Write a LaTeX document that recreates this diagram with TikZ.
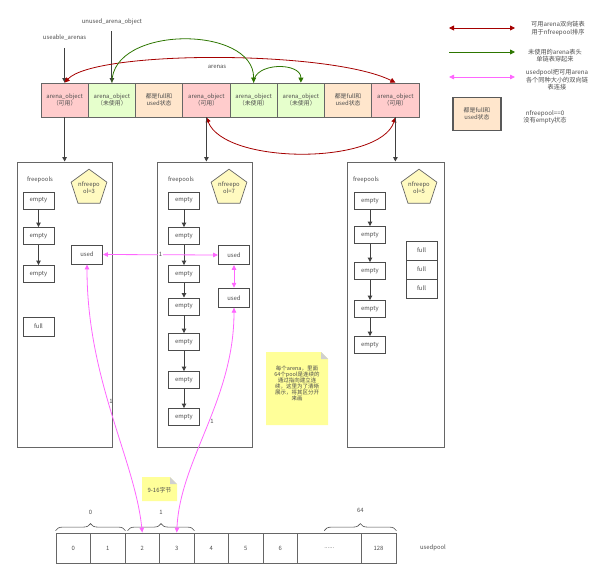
\documentclass[tikz,border=0pt]{standalone}
\usepackage{fontspec}
\setmainfont{Noto Sans CJK SC}
\usetikzlibrary{arrows.meta,shapes.geometric,decorations.pathreplacing}

\definecolor{txtgray}{HTML}{4D4D4D}
\definecolor{linegray}{HTML}{666666}
\definecolor{availfill}{HTML}{FFCCCC}
\definecolor{unusedfill}{HTML}{E6FFCC}
\definecolor{fullfill}{HTML}{FFE6CC}
\definecolor{pentfill}{HTML}{FFFAC0}
\definecolor{notefill}{HTML}{FFFF99}
\definecolor{foldgray}{HTML}{D0D0D0}
\definecolor{listred}{HTML}{A50000}
\definecolor{listgreen}{HTML}{2D7600}
\definecolor{poolpink}{HTML}{FF66FF}

\newcommand{\dfont}{\fontsize{5.9pt}{7.3pt}\selectfont}
\newcommand{\legfont}{\fontsize{6.2pt}{7.4pt}\selectfont}
\newcommand{\notefont}{\fontsize{5.5pt}{6pt}\selectfont}

\begin{document}
\begin{tikzpicture}[x=1pt,y=-1pt,
  cell/.style={draw=linegray,line width=0.8pt,minimum width=47.25pt,minimum height=34pt,inner sep=0pt,align=center,font=\dfont,text=txtgray},
  availcell/.style={cell,fill=availfill},
  unusedcell/.style={cell,fill=unusedfill},
  fullcell/.style={cell,fill=fullfill},
  arenabox/.style={draw=linegray,line width=0.9pt,minimum height=285pt,inner sep=0pt},
  pool/.style={draw=black!70,line width=0.9pt,fill=white,minimum width=31pt,minimum height=17pt,inner sep=0pt,font=\dfont,text=txtgray},
  usedpool/.style={pool,minimum height=19pt},
  nfree/.style={regular polygon,regular polygon sides=5,draw=black!60,line width=0.7pt,fill=pentfill,minimum size=37pt,inner sep=0pt,align=center,font=\dfont,text=txtgray},
  lbl/.style={font=\dfont,text=txtgray,align=center,inner sep=1pt},
  slot/.style={draw=linegray,line width=0.8pt,minimum width=34.5pt,minimum height=30pt,inner sep=0pt,font=\dfont,text=txtgray},
  blackarrow/.style={draw=black!75,line width=0.9pt,-{Triangle[length=4.5pt,width=4.5pt]}},
  redlist/.style={draw=listred,line width=0.8pt,{Triangle[length=5pt,width=5pt]}-{Triangle[length=5pt,width=5pt]}},
  greenlist/.style={draw=listgreen,line width=0.8pt,-{Triangle[length=5pt,width=5pt]}},
  pinklink/.style={draw=poolpink,line width=0.8pt,{Triangle[length=5pt,width=4.5pt]}-{Triangle[length=5pt,width=4.5pt]}},
  grp/.style={draw=black!70,line width=0.6pt,decorate,decoration={brace,amplitude=7pt,raise=2pt}},
]
\useasboundingbox (0,0) rectangle (600,575);

% arena_object list
\node[availcell]  (obj1) at (64.6,100)  {arena\_object\\（可用）};
\node[unusedcell] (obj2) at (111.9,100) {arena\_object\\（未使用）};
\node[fullcell]   (obj3) at (159.1,100) {都是full和\\used状态};
\node[availcell]  (obj4) at (206.4,100) {arena\_object\\（可用）};
\node[unusedcell] (obj5) at (253.6,100) {arena\_object\\（未使用）};
\node[unusedcell] (obj6) at (300.9,100) {arena\_object\\（未使用）};
\node[fullcell]   (obj7) at (348.1,100) {都是full和\\used状态};
\node[availcell]  (obj8) at (395.4,100) {arena\_object\\（可用）};

\node[lbl] (useable) at (64.6,38)  {useable\_arenas};
\node[lbl] (unused)  at (111.9,22) {unused\_arena\_object};
\node[lbl] (arenas)  at (217,67)   {arenas};
\draw[blackarrow] ([yshift=-6pt]useable.south) -- (obj1.north);
\draw[blackarrow] ([yshift=-5pt]unused.south) -- (obj2.north);

% lists between the arena objects
\draw[redlist] (obj1.north) .. controls (95,50) and (330,50) .. (obj8.north);
\draw[redlist] (obj4.south) .. controls (225,165) and (380,165) .. (obj8.south);
\draw[greenlist] (obj2.north) .. controls (112,25) and (254,25) .. (obj5.north);
\draw[greenlist] (obj5.north) .. controls (254,62) and (301,62) .. (obj6.north);

% the three arenas
\node[arenabox,minimum width=95pt] (arena1) at (64.5,304.5) {};
\node[arenabox,minimum width=95pt] (arena2) at (204.5,304.5) {};
\node[arenabox,minimum width=97pt] (arena3) at (395.5,304.5) {};
\draw[blackarrow] (obj1.south) -- (obj1.south |- arena1.north);
\draw[blackarrow] (obj4.south) -- (obj4.south |- arena2.north);
\draw[blackarrow] (obj8.south) -- (obj8.south |- arena3.north);

% arena 1
\node[lbl]      (fp1) at (40,180)     {freepools};
\node[nfree]    (nf1) at (89,188)     {nfreepo\\ol=3};
\node[pool]     (e11) at (38.5,200.5) {empty};
\node[pool]     (e12) at (38.5,236)   {empty};
\node[pool]     (e13) at (38.5,274)   {empty};
\node[usedpool] (f11) at (38.5,326.5) {full};
\node[usedpool] (u11) at (87,254.5)   {used};
\draw[blackarrow] (e11.south) -- (e12.north);
\draw[blackarrow] (e12.south) -- (e13.north);

% arena 2
\node[lbl]      (fp2) at (181,180)    {freepools};
\node[nfree]    (nf2) at (229,188)    {nfreepo\\ol=7};
\node[pool]     (e21) at (184,200.5)  {empty};
\node[pool]     (e22) at (184,236)    {empty};
\node[pool]     (e23) at (184,274)    {empty};
\node[pool]     (e24) at (184,306.5)  {empty};
\node[pool]     (e25) at (184,342)    {empty};
\node[pool]     (e26) at (184,380)    {empty};
\node[pool]     (e27) at (184,417)    {empty};
\node[usedpool] (u21) at (234,255)    {used};
\node[usedpool] (u22) at (234,297.7)  {used};
\draw[blackarrow] (e21.south) -- (e22.north);
\draw[blackarrow] (e22.south) -- (e23.north);
\draw[blackarrow] (e23.south) -- (e24.north);
\draw[blackarrow] (e24.south) -- (e25.north);
\draw[blackarrow] (e25.south) -- (e26.north);
\draw[blackarrow] (e26.south) -- (e27.north);

% arena 3
\node[lbl]      (fp3) at (366,180)    {freepools};
\node[nfree]    (nf3) at (419,188)    {nfreepo\\ol=5};
\node[pool]     (e31) at (370,201)    {empty};
\node[pool]     (e32) at (370,235)    {empty};
\node[pool]     (e33) at (370,271)    {empty};
\node[pool]     (e34) at (370,309)    {empty};
\node[pool]     (e35) at (370,345)    {empty};
\node[usedpool] (f31) at (421.5,250.5) {full};
\node[usedpool] (f32) at (421.5,269.5) {full};
\node[usedpool] (f33) at (421.5,288.5) {full};
\draw[blackarrow] (e31.south) -- (e32.north);
\draw[blackarrow] (e32.south) -- (e33.north);
\draw[blackarrow] (e33.south) -- (e34.north);
\draw[blackarrow] (e34.south) -- (e35.north);

% note
\fill[notefill] (266,352) -- (321,352) -- (328,359) -- (328,425) -- (266,425) -- cycle;
\fill[foldgray] (321,352) -- (328,359) -- (321,359) -- cycle;
\node[lbl,font=\notefont] (note1) at (297,383) {每个arena，里面\\64个pool是连续的\\通过指向建立连\\续，这里为了清晰\\展示，将其区分开\\来画};

% usedpool array
\node[slot] (s0) at (73.25,548)  {0};
\node[slot] (s1) at (107.75,548) {1};
\node[slot] (s2) at (142.25,548) {2};
\node[slot] (s3) at (176.75,548) {3};
\node[slot] (s4) at (211.25,548) {4};
\node[slot] (s5) at (245.75,548) {5};
\node[slot] (s6) at (280.25,548) {6};
\node[slot,minimum width=63.5pt] (s7) at (329.25,548) {......};
\node[slot,minimum width=35pt]   (s8) at (378.5,548)  {128};
\node[lbl] (usedpool) at (433,548) {usedpool};

\draw[grp] (s0.north west) -- (s1.north east) node[lbl,midway,above=17pt] {0};
\draw[grp] ([xshift=3pt]s2.north west) -- (s3.north east) node[lbl,midway,above=17pt] {1};
\draw[grp] ([xshift=-5pt]s7.north) -- (s8.north east) node[lbl,midway,above=19pt] {64};

\fill[notefill] (142,477) -- (170,477) -- (177,484) -- (177,501) -- (142,501) -- cycle;
\fill[foldgray] (170,477) -- (177,484) -- (170,484) -- cycle;
\node[lbl] (note2) at (159.5,490) {9-16字节};

% usedpool links
\draw[pinklink] (u11.east) -- node[lbl,pos=0.5,fill=white,inner sep=0.5pt] {1} (u21.west);
\draw[pinklink] (u21.south) -- (u22.north);
\draw[pinklink] (u11.south) .. controls (87,380) and (135,460) .. node[lbl,pos=0.45,anchor=west] {1} (s2.north);
\draw[pinklink] (u22.south) .. controls (234,400) and (180,460) .. node[lbl,pos=0.47,anchor=west] {1} (s3.north);

% legend
\coordinate (lr1) at (449,28);
\coordinate (lr2) at (515,28);
\coordinate (lg1) at (449,52);
\coordinate (lg2) at (515,52);
\coordinate (lp1) at (449,77);
\coordinate (lp2) at (515,77);
\draw[redlist]   (lr1) -- (lr2);
\draw[greenlist] (lg1) -- (lg2);
\draw[pinklink]  (lp1) -- (lp2);
\node[lbl,font=\legfont] (lrtxt) at (558,28.5) {可用arena双向链表\\用于nfreepool排序};
\node[lbl,font=\legfont] (lgtxt) at (555,55.5) {未使用的arena表头\\单链表穿起来};
\node[lbl,font=\legfont] (lptxt) at (557,80)   {usedpool把可用arena\\各个同种大小的双向链\\表连接};
\node[fullcell,minimum width=48pt,minimum height=33pt,draw=black!65,line width=1.2pt] (lfull) at (477,114) {都是full和\\used状态};
\node[lbl,font=\legfont] (lftxt) at (545,117) {nfreepool==0\\没有empty状态};
\end{tikzpicture}
\end{document}
